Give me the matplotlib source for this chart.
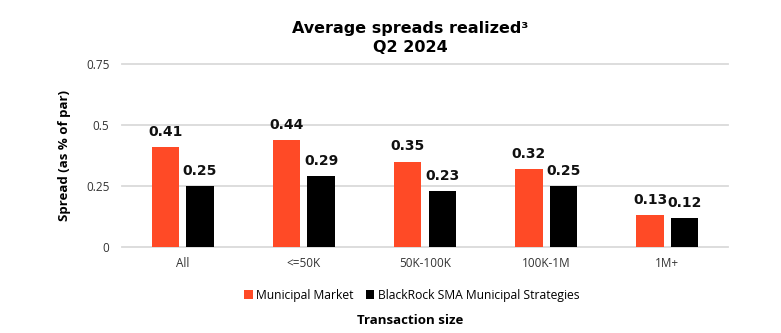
import matplotlib
matplotlib.use("Agg")
import matplotlib.pyplot as plt
import numpy as np

categories = ["All", "<=50K", "50K-100K", "100K-1M", "1M+"]
municipal_market = [0.41, 0.44, 0.35, 0.32, 0.13]
blackrock_sma = [0.25, 0.29, 0.23, 0.25, 0.12]
y_ticks = [0, 0.25, 0.5, 0.75]
y_tick_labels = ["0", "0.25", "0.5", "0.75"]

RED = "#FF4A26"
BLACK = "#000000"
FONT = ["Open Sans", "DejaVu Sans"]
BOLD_FONT = ["DejaVu Sans"]
plt.rcParams["font.family"] = FONT

fig = plt.figure(figsize=(7.81, 3.33), dpi=100)
ax = fig.add_axes([122 / 781, 86 / 333, 606 / 781, 183 / 333])

x = np.arange(len(categories))
w = 0.225
off = 0.143
b1 = ax.bar(x - off, municipal_market, w, color=RED, label="Municipal Market", zorder=3)
b2 = ax.bar(x + off, blackrock_sma, w, color=BLACK, label="BlackRock SMA Municipal Strategies", zorder=3)

for bars, vals in ((b1, municipal_market), (b2, blackrock_sma)):
    for rect, v in zip(bars, vals):
        ax.annotate(f"{v:.2f}", (rect.get_x() + rect.get_width() / 2, v),
                    xytext=(0, 8), textcoords="offset points",
                    ha="center", va="baseline", fontsize=10,
                    fontweight="bold", family=BOLD_FONT, color="#111111")

ax.set_xlim(-0.5, len(categories) - 0.5)
ax.set_ylim(0, 0.75)
ax.set_yticks(y_ticks)
ax.set_yticklabels(y_tick_labels)
ax.set_xticks(x)
ax.set_xticklabels(categories)
ax.tick_params(axis="both", length=0, labelsize=8.5, colors="#333333")
ax.tick_params(axis="y", pad=9)
ax.tick_params(axis="x", pad=7)
ax.grid(axis="y", color="#DADADA", linewidth=1.3, zorder=0)
for s in ax.spines.values():
    s.set_visible(False)
for gl in ax.get_ygridlines():
    gl.set_clip_on(False)

ax.set_ylabel("Spread (as % of par)", fontsize=9.5, fontweight="bold")
ax.yaxis.set_label_coords(-0.084, 0.5)

fig.text(410 / 781, 1 - 28 / 333, "Average spreads realized\u00b3", ha="center", va="center",
         fontsize=11.5, fontweight="bold", family=BOLD_FONT)
fig.text(410 / 781, 1 - 47 / 333, "Q2 2024", ha="center", va="center",
         fontsize=11.5, fontweight="bold", family=BOLD_FONT)

fig.legend(handles=[b1, b2], loc="center", bbox_to_anchor=(412 / 781, 1 - 295 / 333),
           ncol=2, frameon=False, fontsize=8.7, handlelength=0.7, handleheight=0.7,
           handletextpad=0.3, columnspacing=1.0)

fig.text(410 / 781, 1 - 321 / 333, "Transaction size", ha="center", va="center",
         fontsize=9.5, fontweight="bold")

fig.savefig("out.png", dpi=100, facecolor="white")
